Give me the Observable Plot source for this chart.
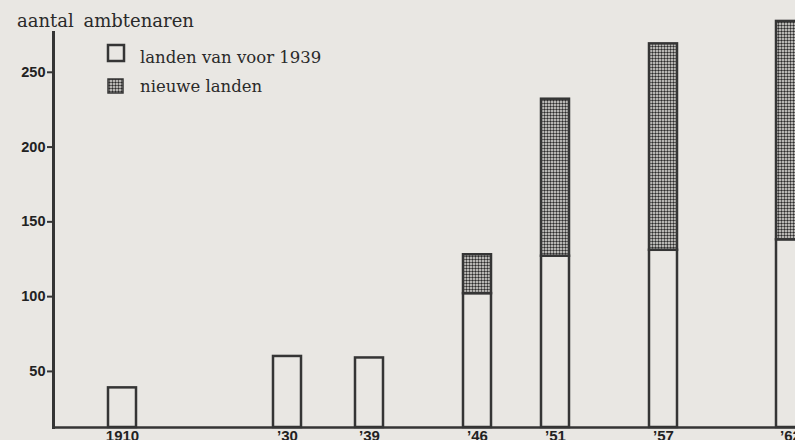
<!DOCTYPE html>
<html>
<head>
<meta charset="utf-8">
<script src="https://cdn.jsdelivr.net/npm/d3@7"></script>
<script src="https://cdn.jsdelivr.net/npm/@observablehq/plot@0.6"></script>
<style>
  html, body { margin: 0; padding: 0; background: #e9e7e3; overflow: hidden; }
  #wrap { position: relative; width: 795px; height: 440px; }
  #chart svg { display: block; }
  #overlay { position: absolute; left: 0; top: 0; pointer-events: none; }
  .serif { font-family: "DejaVu Serif", serif; fill: #2a2a2a; }
</style>
</head>
<body>
<div id="wrap">
  <div id="chart"></div>
  <svg id="overlay" width="795" height="110">
    <defs>
      <pattern id="stippleL" width="3" height="3" patternUnits="userSpaceOnUse">
        <rect width="3" height="3" fill="#e6e4e0"></rect>
        <circle cx="1.5" cy="1.5" r="1.2" fill="#2c2c2c"></circle>
      </pattern>
    </defs>
    <text class="serif" x="17" y="27" font-size="18" style="word-spacing:4px">aantal ambtenaren</text>
    <rect x="108" y="45" width="16" height="16" fill="none" stroke="#353535" stroke-width="2.5"></rect>
    <text class="serif" x="140" y="63" font-size="16.5">landen van voor 1939</text>
    <rect x="108" y="79" width="15" height="14" fill="url(#stippleL)" stroke="#353535" stroke-width="1.5"></rect>
    <text class="serif" x="140" y="92" font-size="16.5">nieuwe landen</text>
  </svg>
</div>
<script>
// Data
const years = [1910, 1930, 1939, 1946, 1951, 1957, 1962];
const yearLabels = ["1910", "’30", "’39", "’46", "’51", "’57", "’62"];
const oudeLanden = [39, 60, 59, 102, 127, 131, 138];   // landen van voor 1939
const nieuweLanden = [0, 0, 0, 26, 105, 138, 146];     // nieuwe landen
const yTicks = [50, 100, 150, 200, 250];

const table = years.map((year, i) => ({
  year,
  label: yearLabels[i],
  oud: oudeLanden[i],
  nieuw: nieuweLanden[i],
  totaal: oudeLanden[i] + nieuweLanden[i]
}));

const ink = "#353535";

const chart = Plot.plot({
  width: 795,
  height: 440,
  marginLeft: 53,
  marginRight: 0,
  marginTop: 32,
  marginBottom: 13,
  style: { background: "transparent", color: ink, fontFamily: "'Liberation Sans', Arial, sans-serif" },
  x: { type: "linear", domain: years, range: [122, 287, 369, 477, 555, 663, 790], axis: null },
  y: { domain: [12.5, 298], range: [427, 0], clamp: true },
  marks: [
    Plot.axisY({ ticks: yTicks, tickSize: 6, tickPadding: 2, tickFormat: d => String(d), strokeWidth: 2, fontSize: 14.5, fontWeight: "bold", fill: "#222", stroke: ink }),
    Plot.rectY(table, { x1: "year", x2: "year", y1: 0, y2: "oud", insetLeft: -14, insetRight: -14, fill: "#e9e7e3", stroke: ink, strokeWidth: 2.5 }),
    Plot.rectY(table.filter(d => d.nieuw > 0), { x1: "year", x2: "year", y1: "oud", y2: "totaal", insetLeft: -14, insetRight: -14, fill: "url(#stipple)", stroke: ink, strokeWidth: 2.5 }),
    Plot.frame({ anchor: "left", stroke: ink, strokeWidth: 3 }),
    Plot.ruleY([0], { stroke: ink, strokeWidth: 2.5 }),
    Plot.text(table, { x: "year", frameAnchor: "bottom", text: "label", lineAnchor: "top", dy: 3, fontSize: 15, fontWeight: "bold", fill: "#222" })
  ]
});

// stipple pattern definition
const defs = d3.select(chart).insert("defs", ":first-child");
const pat = defs.append("pattern").attr("id", "stipple").attr("width", 3).attr("height", 3).attr("patternUnits", "userSpaceOnUse");
pat.append("rect").attr("width", 3).attr("height", 3).attr("fill", "#e6e4e0");
pat.append("circle").attr("cx", 1.5).attr("cy", 1.5).attr("r", 1.2).attr("fill", "#2c2c2c");

document.getElementById("chart").appendChild(chart);
</script>
</body>
</html>
